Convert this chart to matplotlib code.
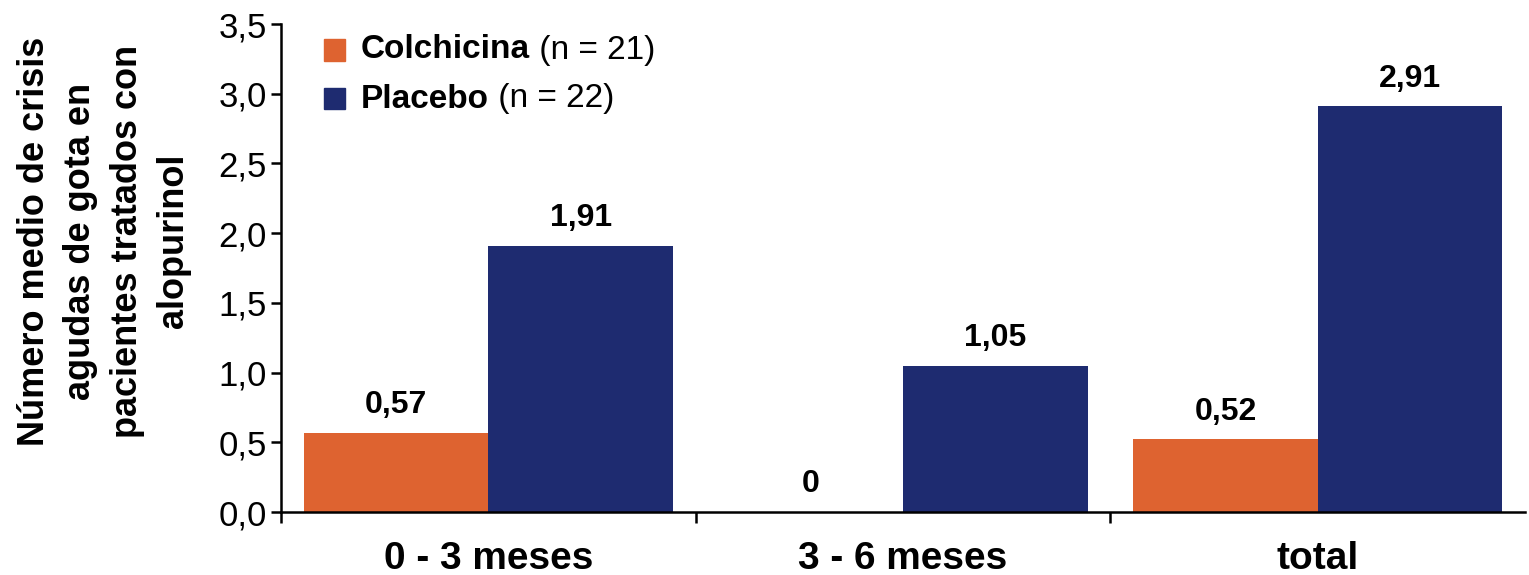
import matplotlib
matplotlib.use("Agg")
import matplotlib.pyplot as plt
from matplotlib.patches import Rectangle
import numpy as np

# Data
categories = ["0 - 3 meses", "3 - 6 meses", "total"]
colchicina = [0.57, 0.0, 0.52]
placebo = [1.91, 1.05, 2.91]
series_names = ["Colchicina", "Placebo"]
series_n = ["(n = 21)", "(n = 22)"]
y_ticks = [0.0, 0.5, 1.0, 1.5, 2.0, 2.5, 3.0, 3.5]
y_label = "Número medio de crisis\nagudas de gota en\npacientes tratados con\nalopurinol"

ORANGE = "#DE6330"
NAVY = "#1E2B70"

plt.rcParams["font.family"] = ["Liberation Sans", "DejaVu Sans"]

fig = plt.figure(figsize=(15.29, 5.75), dpi=100)
ax = fig.add_axes([281 / 1529, 63 / 575, 1244 / 1529, 488 / 575])

x = np.arange(len(categories))
w = 0.445
b1 = ax.bar(x - w / 2, colchicina, width=w, color=ORANGE, linewidth=0)
b2 = ax.bar(x + w / 2, placebo, width=w, color=NAVY, linewidth=0)

def fmt(v):
    if v == 0:
        return "0"
    return f"{v:.2f}".replace(".", ",")

for bars, vals in ((b1, colchicina), (b2, placebo)):
    for rect, v in zip(bars, vals):
        ax.annotate(fmt(v), xy=(rect.get_x() + rect.get_width() / 2, v),
                    xytext=(0, 9), textcoords="offset points",
                    ha="center", va="bottom", fontsize=23, fontweight="bold")

ax.set_xlim(-0.5, 2.5)
ax.set_ylim(0, 3.5)
ax.set_yticks(y_ticks)
ax.set_yticklabels([f"{t:.1f}".replace(".", ",") for t in y_ticks])
ax.tick_params(axis="y", labelsize=25, length=7, width=1.8, pad=3, direction="out")

ax.set_xticks(x)
ax.set_xticklabels(categories, fontsize=28, fontweight="bold")
ax.tick_params(axis="x", which="major", length=0, pad=21)
ax.set_xticks([-0.5, 0.5, 1.5], minor=True)
ax.tick_params(axis="x", which="minor", length=8, width=1.8, direction="out")

for s in ("top", "right"):
    ax.spines[s].set_visible(False)
for s in ("left", "bottom"):
    ax.spines[s].set_linewidth(1.8)

# Legend drawn by hand: bold series name followed by regular sample size
leg_x_box = (324 - 281) / 1244
leg_x_txt = (361 - 281) / 1244
sq_w = 21 / 1244
sq_h = 21 / 488
for i, (name, n, col) in enumerate(zip(series_names, series_n, [ORANGE, NAVY])):
    yc = (512 - (50 + 49 * i)) / 488
    ax.add_patch(Rectangle((leg_x_box, yc - sq_h / 2), sq_w, sq_h,
                           transform=ax.transAxes, color=col, clip_on=False))
    t = ax.text(leg_x_txt, yc, name, transform=ax.transAxes, fontsize=24,
                fontweight="bold", va="center", ha="left")
    ax.annotate(" " + n, xy=(1, 0), xycoords=t, ha="left", va="bottom",
                fontsize=24)

fig.text(104 / 1529, 1 - 241 / 575, y_label, rotation=90, ha="center",
         va="center", fontsize=26, fontweight="bold", linespacing=1.42,
         multialignment="center")

fig.savefig("out.png", dpi=100, facecolor="white")
